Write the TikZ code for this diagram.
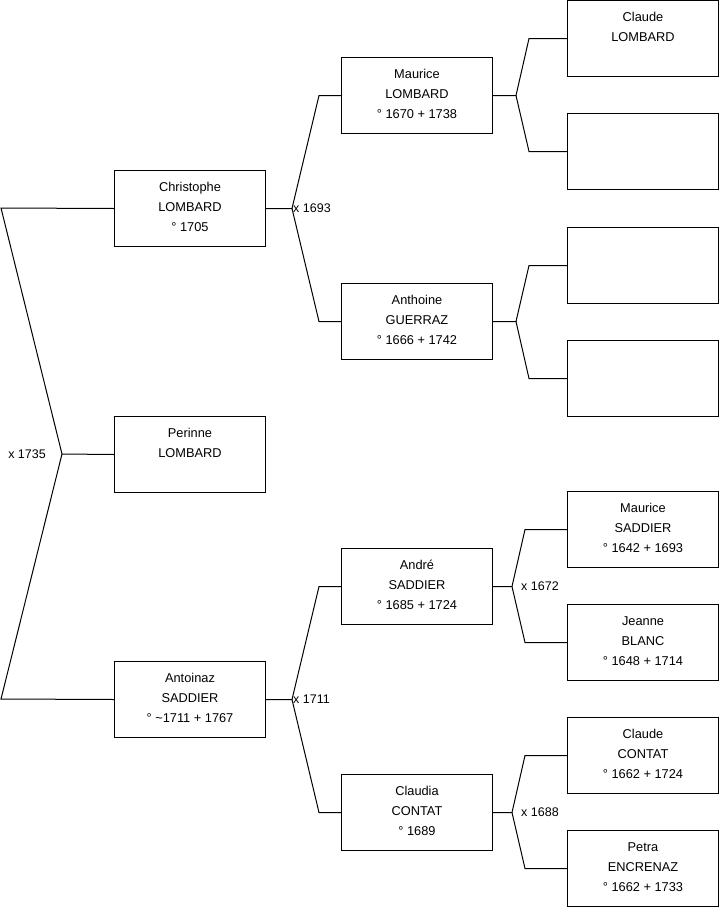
\documentclass[tikz,border=0pt]{standalone}
\usepackage{fontspec}
\setmainfont{Liberation Sans}
\newcommand{\ptext}[1]{\parbox[c][76pt][t]{151pt}{\centering\vspace*{6.7pt}\strut #1}}
\tikzset{
  person/.style={draw=black, line width=1pt, rectangle, anchor=north west, inner sep=0pt,
    minimum width=151pt, minimum height=76pt, font=\fontsize{12.8}{20}\selectfont},
  link/.style={draw=black, line width=1pt},
  marr/.style={font=\fontsize{12.5}{14}\selectfont, inner sep=1pt},
}
\begin{document}
\begin{tikzpicture}[x=1pt,y=-1pt]
\useasboundingbox (0,0) rectangle (719,908);
% column 1
\node[person] (christophe) at (114,170) {\ptext{Christophe\\LOMBARD\\° 1705}};
\node[person] (perinne) at (114,416) {\ptext{Perinne\\LOMBARD}};
\node[person] (antoinaz) at (114,661) {\ptext{Antoinaz\\SADDIER\\° \textasciitilde1711 + 1767}};
% column 2
\node[person] (maurice) at (341,57) {\ptext{Maurice\\LOMBARD\\° 1670 + 1738}};
\node[person] (anthoine) at (341,283) {\ptext{Anthoine\\GUERRAZ\\° 1666 + 1742}};
\node[person] (andre) at (341,548) {\ptext{André\\SADDIER\\° 1685 + 1724}};
\node[person] (claudia) at (341,774) {\ptext{Claudia\\CONTAT\\° 1689}};
% column 3
\node[person] (claudel) at (567,0) {\ptext{Claude\\LOMBARD}};
\node[person] (empty1) at (567,113) {};
\node[person] (empty2) at (567,227) {};
\node[person] (empty3) at (567,340) {};
\node[person] (mauricesa) at (567,491) {\ptext{Maurice\\SADDIER\\° 1642 + 1693}};
\node[person] (jeanne) at (567,604) {\ptext{Jeanne\\BLANC\\° 1648 + 1714}};
\node[person] (claudec) at (567,717) {\ptext{Claude\\CONTAT\\° 1662 + 1724}};
\node[person] (petra) at (567,830) {\ptext{Petra\\ENCRENAZ\\° 1662 + 1733}};

% left fork
\coordinate (j0) at (62,454);
\coordinate (e1) at (1,208);
\coordinate (e2) at (1,699);
\draw[link] (christophe.west) -- (e1) -- (j0) -- (e2) -- (antoinaz.west);
\draw[link] (j0) -- (perinne.west);
\node[marr, anchor=east] (m1735) at ([xshift=-15pt]j0) {x 1735};

% column 1 -> column 2
\coordinate (j1) at ([xshift=26pt]christophe.east);
\draw[link] (christophe.east) -- (j1) -- ([xshift=-22pt]maurice.west) -- (maurice.west);
\draw[link] (j1) -- ([xshift=-22pt]anthoine.west) -- (anthoine.west);
\node[marr, anchor=west] (m1693) at (j1) {x 1693};

\coordinate (j2) at ([xshift=26pt]antoinaz.east);
\draw[link] (antoinaz.east) -- (j2) -- ([xshift=-22pt]andre.west) -- (andre.west);
\draw[link] (j2) -- ([xshift=-22pt]claudia.west) -- (claudia.west);
\node[marr, anchor=west] (m1711) at (j2) {x 1711};

% column 2 -> column 3
\coordinate (j3) at ([xshift=23pt]maurice.east);
\draw[link] (maurice.east) -- (j3) -- ([xshift=-38pt]claudel.west) -- (claudel.west);
\draw[link] (j3) -- ([xshift=-38pt]empty1.west) -- (empty1.west);

\coordinate (j4) at ([xshift=23pt]anthoine.east);
\draw[link] (anthoine.east) -- (j4) -- ([xshift=-38pt]empty2.west) -- (empty2.west);
\draw[link] (j4) -- ([xshift=-38pt]empty3.west) -- (empty3.west);

\coordinate (j5) at ([xshift=19pt]andre.east);
\draw[link] (andre.east) -- (j5) -- ([xshift=-42pt]mauricesa.west) -- (mauricesa.west);
\draw[link] (j5) -- ([xshift=-42pt]jeanne.west) -- (jeanne.west);
\node[marr, anchor=west] (m1672) at ([xshift=8pt]j5) {x 1672};

\coordinate (j6) at ([xshift=19pt]claudia.east);
\draw[link] (claudia.east) -- (j6) -- ([xshift=-42pt]claudec.west) -- (claudec.west);
\draw[link] (j6) -- ([xshift=-42pt]petra.west) -- (petra.west);
\node[marr, anchor=west] (m1688) at ([xshift=8pt]j6) {x 1688};
\end{tikzpicture}
\end{document}
